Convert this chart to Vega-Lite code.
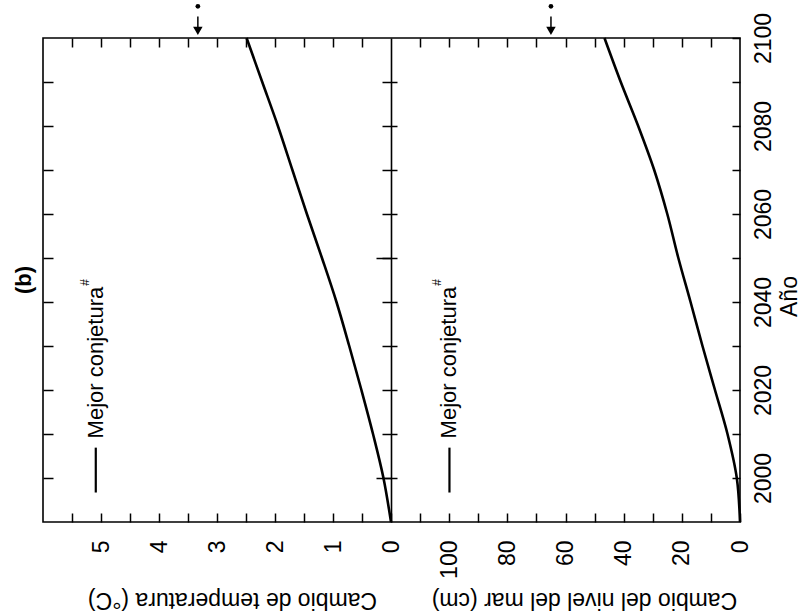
{
  "$schema": "https://vega.github.io/schema/vega-lite/v6.json",
  "width": 697,
  "height": 484,
  "autosize": {"type": "none"},
  "padding": {"left": 43, "top": 38, "right": 61, "bottom": 94},
  "title": {"text": "(b)", "orient": "left", "anchor": "middle", "offset": -16, "fontSize": 22, "fontWeight": "bold", "baseline": "bottom", "frame": "group", "color": "black"},
  "config": {
    "font": "Liberation Sans",
    "view": {"stroke": "black", "strokeWidth": 1.6},
    "axis": {"grid": false, "domain": false, "tickColor": "black", "tickWidth": 1.5, "labelColor": "black", "titleColor": "black", "labelFontSize": 23, "titleFontSize": 23, "titleFontWeight": "normal", "labelOverlap": false, "labelFlush": false}
  },
  "datasets": {
    "temp": [
      {"year": 1990, "v": 0}, {"year": 2000, "v": 0.13}, {"year": 2010, "v": 0.31}, {"year": 2020, "v": 0.51},
      {"year": 2030, "v": 0.72}, {"year": 2040, "v": 0.94}, {"year": 2050, "v": 1.19}, {"year": 2060, "v": 1.45},
      {"year": 2070, "v": 1.70}, {"year": 2080, "v": 1.95}, {"year": 2090, "v": 2.22}, {"year": 2100, "v": 2.49}
    ],
    "sea": [
      {"year": 1990, "v": 0}, {"year": 2000, "v": 1.1}, {"year": 2010, "v": 4.3}, {"year": 2020, "v": 8.6},
      {"year": 2030, "v": 12.9}, {"year": 2040, "v": 17.0}, {"year": 2050, "v": 21.2}, {"year": 2060, "v": 25.0},
      {"year": 2070, "v": 29.5}, {"year": 2080, "v": 35.0}, {"year": 2090, "v": 41.0}, {"year": 2100, "v": 46.6}
    ],
    "t_ann": [{"v": 3.33, "head": 2101.6, "s0": 2102.3, "s1": 2104.9, "dot": 2107.2, "lv": 5.09, "l0": 1996.7, "l1": 2006.9, "ly": 2009, "label": "Mejor conjetura", "sv": 5.28, "sy": 2043.7, "sup": "#"}],
    "s_ann": [{"v": 65, "head": 2101.6, "s0": 2102.3, "s1": 2104.9, "dot": 2107.2, "lv": 99.9, "l0": 1996.7, "l1": 2006.9, "ly": 2009, "label": "Mejor conjetura", "sv": 104.1, "sy": 2043.7, "sup": "#"}]
  },
  "layer": [
    {
      "data": {"name": "temp"},
      "mark": {"type": "line", "color": "black", "strokeWidth": 2.6, "interpolate": "catmull-rom"},
      "encoding": {
        "x": {"field": "v", "type": "quantitative", "scale": {"domain": [0, 6], "range": [348, 0], "nice": false, "zero": false},
          "axis": {"orient": "bottom", "values": [0, 0.5, 1, 1.5, 2, 2.5, 3, 3.5, 4, 4.5, 5, 5.5], "labelExpr": "datum.value % 1 === 0 ? format(datum.value, 'd') : ''", "tickSize": -9, "labelAngle": 270, "labelAlign": "right", "labelBaseline": "middle", "labelPadding": 27, "title": "Cambio de temperatura (°C)", "titleAngle": 180, "titleAlign": "center", "titleBaseline": "middle", "titleX": 189, "titleY": 77}},
        "y": {"field": "year", "type": "quantitative", "scale": {"domain": [1990, 2100], "nice": false, "zero": false},
          "axis": {"orient": "left", "values": [2000, 2010, 2020, 2030, 2040, 2050, 2060, 2070, 2080, 2090], "labels": false, "tickSize": -10, "title": null}},
        "order": {"field": "year", "type": "quantitative"}
      }
    },
    {
      "data": {"name": "t_ann"},
      "mark": {"type": "rule", "color": "black", "strokeWidth": 1.5},
      "encoding": {
        "x": {"field": "v", "type": "quantitative", "scale": {"domain": [0, 6], "range": [348, 0], "nice": false, "zero": false},
          "axis": {"orient": "top", "values": [0.5, 1, 1.5, 2, 2.5, 3, 3.5, 4, 4.5, 5, 5.5], "labels": false, "tickSize": -9, "title": null}},
        "y": {"field": "s0", "type": "quantitative", "scale": {"domain": [1990, 2100], "nice": false, "zero": false},
          "axis": {"orient": "left", "offset": -348, "values": [2000, 2010, 2020, 2030, 2040, 2050, 2060, 2070, 2080, 2090], "labels": false, "tickSize": 9, "domain": true, "domainColor": "black", "domainWidth": 1.6, "title": null}},
        "y2": {"field": "s1"}
      }
    },
    {
      "data": {"name": "t_ann"},
      "mark": {"type": "point", "shape": "triangle-down", "filled": true, "color": "black", "size": 90, "opacity": 1},
      "encoding": {
        "x": {"field": "v", "type": "quantitative", "scale": {"domain": [0, 6], "range": [348, 0], "nice": false, "zero": false}, "axis": null},
        "y": {"field": "head", "type": "quantitative", "scale": {"domain": [1990, 2100], "nice": false, "zero": false},
          "axis": {"orient": "left", "offset": -348, "values": [2000, 2050], "labels": false, "tickSize": 15, "title": null}}
      }
    },
    {
      "data": {"name": "t_ann"},
      "mark": {"type": "point", "shape": "circle", "filled": true, "color": "black", "size": 22, "opacity": 1},
      "encoding": {
        "x": {"field": "v", "type": "quantitative", "scale": {"domain": [0, 6], "range": [348, 0], "nice": false, "zero": false}, "axis": null},
        "y": {"field": "dot", "type": "quantitative", "scale": {"domain": [1990, 2100], "nice": false, "zero": false}, "axis": null}
      }
    },
    {
      "data": {"name": "t_ann"},
      "mark": {"type": "rule", "color": "black", "strokeWidth": 2.2},
      "encoding": {
        "x": {"field": "lv", "type": "quantitative", "scale": {"domain": [0, 6], "range": [348, 0], "nice": false, "zero": false}, "axis": null},
        "y": {"field": "l0", "type": "quantitative", "scale": {"domain": [1990, 2100], "nice": false, "zero": false}, "axis": null},
        "y2": {"field": "l1"}
      }
    },
    {
      "data": {"name": "t_ann"},
      "mark": {"type": "text", "angle": 270, "align": "left", "baseline": "middle", "fontSize": 22, "color": "black"},
      "encoding": {
        "x": {"field": "lv", "type": "quantitative", "scale": {"domain": [0, 6], "range": [348, 0], "nice": false, "zero": false}, "axis": null},
        "y": {"field": "ly", "type": "quantitative", "scale": {"domain": [1990, 2100], "nice": false, "zero": false}, "axis": null},
        "text": {"field": "label"}
      }
    },
    {
      "data": {"name": "t_ann"},
      "mark": {"type": "text", "angle": 270, "align": "left", "baseline": "middle", "fontSize": 12, "color": "black"},
      "encoding": {
        "x": {"field": "sv", "type": "quantitative", "scale": {"domain": [0, 6], "range": [348, 0], "nice": false, "zero": false}, "axis": null},
        "y": {"field": "sy", "type": "quantitative", "scale": {"domain": [1990, 2100], "nice": false, "zero": false}, "axis": null},
        "text": {"field": "sup"}
      }
    },
    {
      "data": {"name": "sea"},
      "mark": {"type": "line", "color": "black", "strokeWidth": 2.6, "interpolate": "catmull-rom"},
      "encoding": {
        "x": {"field": "v", "type": "quantitative", "scale": {"domain": [0, 120], "range": [697, 348], "nice": false, "zero": false},
          "axis": {"orient": "bottom", "values": [0, 10, 20, 30, 40, 50, 60, 70, 80, 90, 100, 110], "labelExpr": "datum.value % 20 === 0 ? format(datum.value, 'd') : ''", "tickSize": -9, "labelAngle": 270, "labelAlign": "right", "labelBaseline": "middle", "labelPadding": 27, "title": "Cambio del nivel del mar (cm)", "titleAngle": 180, "titleAlign": "center", "titleBaseline": "middle", "titleX": 541, "titleY": 77}},
        "y": {"field": "year", "type": "quantitative", "scale": {"domain": [1990, 2100], "nice": false, "zero": false},
          "axis": {"orient": "right", "values": [2000, 2010, 2020, 2030, 2040, 2050, 2060, 2070, 2080, 2090, 2100], "labelExpr": "datum.value % 20 === 0 ? format(datum.value, 'd') : ''", "tickSize": -8, "labelAngle": 270, "labelAlign": "center", "labelBaseline": "top", "labelPadding": 20, "title": "Año", "titleAngle": 270, "titleAlign": "center", "titleBaseline": "middle", "titleX": 49, "titleY": 258}},
        "order": {"field": "year", "type": "quantitative"}
      }
    },
    {
      "data": {"name": "s_ann"},
      "mark": {"type": "rule", "color": "black", "strokeWidth": 1.5},
      "encoding": {
        "x": {"field": "v", "type": "quantitative", "scale": {"domain": [0, 120], "range": [697, 348], "nice": false, "zero": false},
          "axis": {"orient": "top", "values": [10, 20, 30, 40, 50, 60, 70, 80, 90, 100, 110], "labels": false, "tickSize": -9, "title": null}},
        "y": {"field": "s0", "type": "quantitative", "scale": {"domain": [1990, 2100], "nice": false, "zero": false},
          "axis": {"orient": "right", "offset": -349, "values": [2000, 2010, 2020, 2030, 2040, 2050, 2060, 2070, 2080, 2090], "labels": false, "tickSize": 6, "title": null}},
        "y2": {"field": "s1"}
      }
    },
    {
      "data": {"name": "s_ann"},
      "mark": {"type": "point", "shape": "triangle-down", "filled": true, "color": "black", "size": 90, "opacity": 1},
      "encoding": {
        "x": {"field": "v", "type": "quantitative", "scale": {"domain": [0, 120], "range": [697, 348], "nice": false, "zero": false}, "axis": null},
        "y": {"field": "head", "type": "quantitative", "scale": {"domain": [1990, 2100], "nice": false, "zero": false}, "axis": null}
      }
    },
    {
      "data": {"name": "s_ann"},
      "mark": {"type": "point", "shape": "circle", "filled": true, "color": "black", "size": 22, "opacity": 1},
      "encoding": {
        "x": {"field": "v", "type": "quantitative", "scale": {"domain": [0, 120], "range": [697, 348], "nice": false, "zero": false}, "axis": null},
        "y": {"field": "dot", "type": "quantitative", "scale": {"domain": [1990, 2100], "nice": false, "zero": false}, "axis": null}
      }
    },
    {
      "data": {"name": "s_ann"},
      "mark": {"type": "rule", "color": "black", "strokeWidth": 2.2},
      "encoding": {
        "x": {"field": "lv", "type": "quantitative", "scale": {"domain": [0, 120], "range": [697, 348], "nice": false, "zero": false}, "axis": null},
        "y": {"field": "l0", "type": "quantitative", "scale": {"domain": [1990, 2100], "nice": false, "zero": false}, "axis": null},
        "y2": {"field": "l1"}
      }
    },
    {
      "data": {"name": "s_ann"},
      "mark": {"type": "text", "angle": 270, "align": "left", "baseline": "middle", "fontSize": 22, "color": "black"},
      "encoding": {
        "x": {"field": "lv", "type": "quantitative", "scale": {"domain": [0, 120], "range": [697, 348], "nice": false, "zero": false}, "axis": null},
        "y": {"field": "ly", "type": "quantitative", "scale": {"domain": [1990, 2100], "nice": false, "zero": false}, "axis": null},
        "text": {"field": "label"}
      }
    },
    {
      "data": {"name": "s_ann"},
      "mark": {"type": "text", "angle": 270, "align": "left", "baseline": "middle", "fontSize": 12, "color": "black"},
      "encoding": {
        "x": {"field": "sv", "type": "quantitative", "scale": {"domain": [0, 120], "range": [697, 348], "nice": false, "zero": false}, "axis": null},
        "y": {"field": "sy", "type": "quantitative", "scale": {"domain": [1990, 2100], "nice": false, "zero": false}, "axis": null},
        "text": {"field": "sup"}
      }
    }
  ],
  "resolve": {"scale": {"x": "independent"}, "axis": {"x": "independent", "y": "independent"}}
}
